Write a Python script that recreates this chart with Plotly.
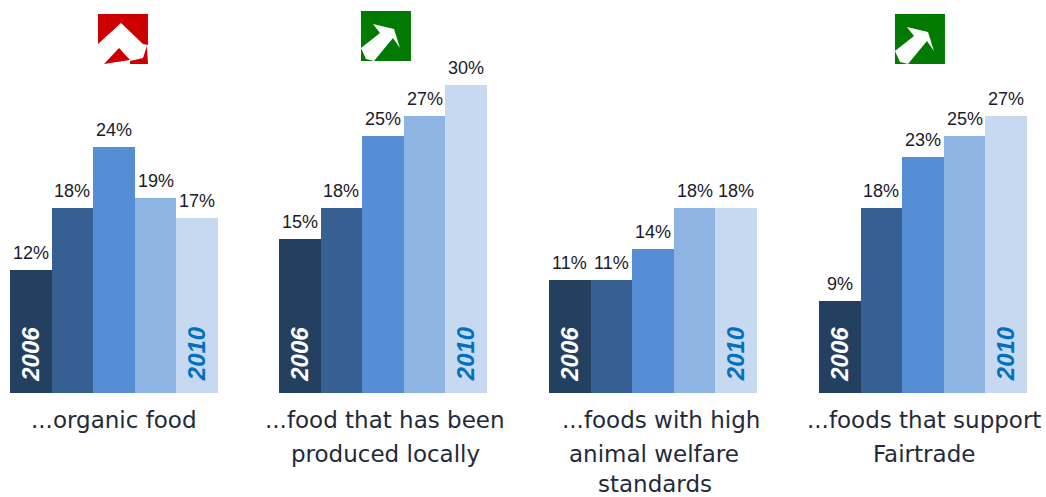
import plotly.graph_objects as go

W, H = 1046, 497
years = ["2006", "2007", "2008", "2009", "2010"]
organic = [12, 18, 24, 19, 17]
local = [15, 18, 25, 27, 30]
welfare = [11, 11, 14, 18, 18]
fairtrade = [9, 18, 23, 25, 27]
series = [organic, local, welfare, fairtrade]
captions = [["...organic food"],
            ["...food that has been", "produced locally"],
            ["...foods with high", "animal welfare", "standards"],
            ["...foods that support", "Fairtrade"]]
colors = ["#244061", "#376092", "#558ED5", "#8EB4E3", "#C6D9F1"]

panel_px = [(10, 218), (279, 487), (549, 757), (819, 1027)]
caption_cx = [[114], [385, 385], [661, 654, 655], [924, 924]]
caption_y = [420, 454, 484]
BASE = 393
PX_PER_PCT = 10.27
FONT = "Liberation Sans"

fig = go.Figure()
layout_axes = {}
annotations = []
for i, (vals, (x0, x1)) in enumerate(zip(series, panel_px)):
    n = "" if i == 0 else str(i + 1)
    fig.add_trace(go.Bar(
        x=years, y=vals, xaxis="x" + n, yaxis="y" + n,
        marker=dict(color=colors, line=dict(width=0)),
        showlegend=False, hoverinfo="skip", width=1,
    ))
    layout_axes["xaxis" + n] = dict(domain=[x0 / W, x1 / W], type="category", range=[-0.5, 4.5],
                                    visible=False, anchor="y" + n, categoryorder="array", categoryarray=years)
    layout_axes["yaxis" + n] = dict(domain=[(H - BASE) / H, 1], range=[0, BASE / PX_PER_PCT],
                                    visible=False, anchor="x" + n)
    for j, v in enumerate(vals):
        annotations.append(dict(
            x=j, y=v, xref="x" + n, yref="y" + n, text=f"{v}%", showarrow=False,
            yanchor="middle", xanchor="center", yshift=17,
            font=dict(family=FONT, size=18, color="#1A1A2A"),
        ))
    for yr, col, idx in (("2006", "white", 0), ("2010", "#0070C0", 4)):
        annotations.append(dict(
            x=idx, y=3.8, xref="x" + n, yref="y" + n, text=yr, showarrow=False, textangle=-90,
            xanchor="center", yanchor="middle",
            font=dict(family=FONT, size=24, color=col, weight="bold", style="italic"),
        ))
    for line, cx, py in zip(captions[i], caption_cx[i], caption_y):
        annotations.append(dict(
            x=cx / W, y=(H - py) / H, xref="paper", yref="paper", text=line, showarrow=False,
            xanchor="center", yanchor="middle",
            font=dict(family="DejaVu Sans", size=23, color="#1F2A3A"),
        ))


def path(pts):
    return "M" + "L".join(f"{x / W:.4f},{1 - y / H:.4f}" for x, y in pts) + "Z"


def poly(pts, c):
    return dict(type="path", xref="paper", yref="paper", path=path(pts), fillcolor=c,
                line=dict(width=0), layer="above")


def sq(x, y, c):
    return poly([(x, y), (x + 50, y), (x + 50, y + 50), (x, y + 50)], c)


def green_arrow(x, y):
    pts = [(12, 13), (33, 18), (39, 37), (32, 27), (13, 50), (5, 48), (0, 37), (19, 22)]
    return poly([(x + a, y + b) for a, b in pts], "white")


shapes = [
    sq(98, 14, "#CC0000"),
    poly([(121, 23), (143, 44), (148, 45), (148, 64), (98, 64), (98, 44)], "white"),
    poly([(119, 48), (130, 60), (104, 64)], "#CC0000"),
    poly([(130, 61), (143, 58), (147, 46), (148, 64), (130, 64)], "#CC0000"),
    sq(361, 11, "#007A00"), green_arrow(361, 11),
    sq(895, 14, "#007A00"), green_arrow(895, 14),
]

fig.update_layout(
    width=W, height=H, margin=dict(l=0, r=0, t=0, b=0), paper_bgcolor="white", plot_bgcolor="white",
    barmode="group", bargap=0, annotations=annotations, shapes=shapes, **layout_axes,
)
fig.write_html("out.html", config={"displayModeBar": False}, post_script="document.body.style.margin='0';")
